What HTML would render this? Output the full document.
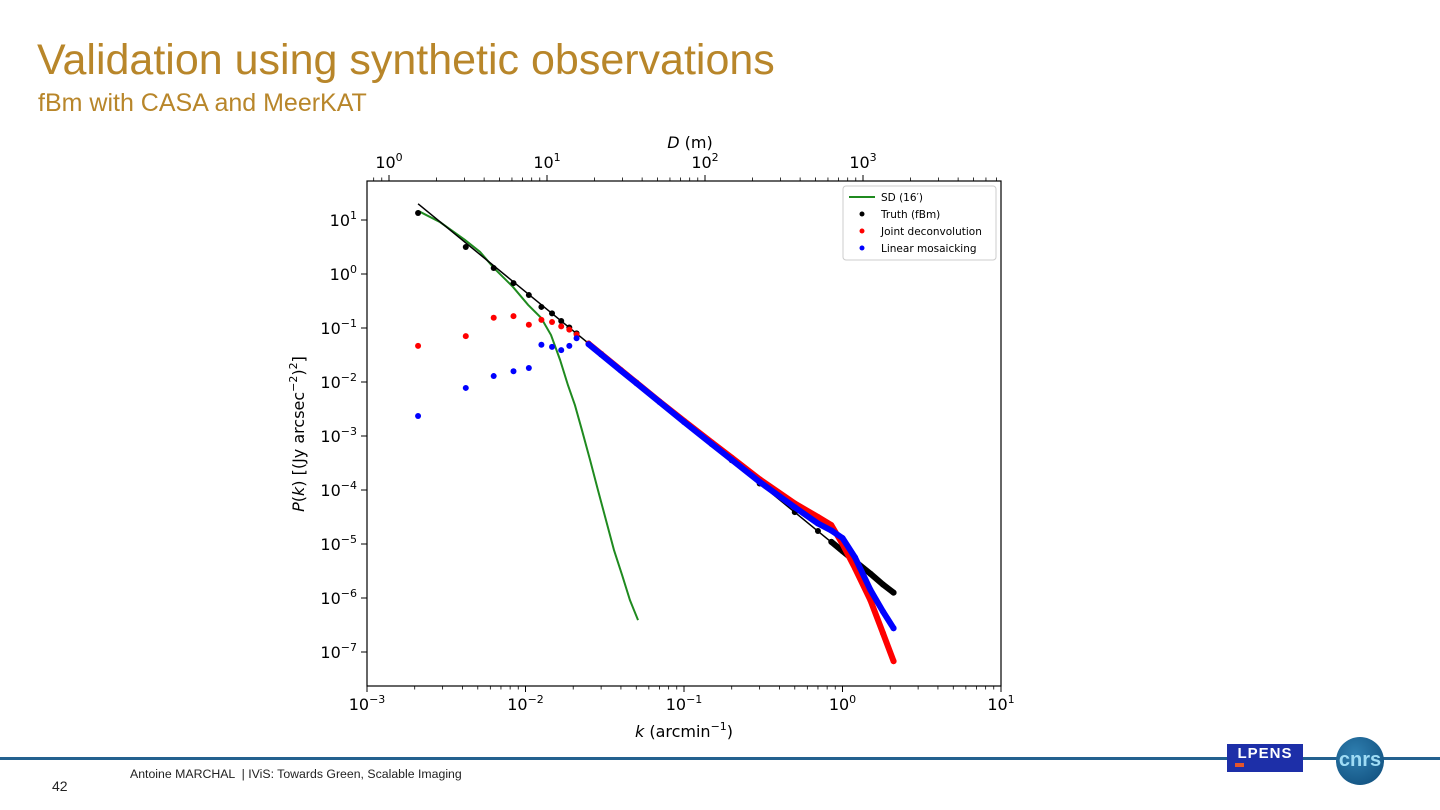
<!DOCTYPE html>
<html><head><meta charset="utf-8"><style>
body{margin:0;width:1440px;height:810px;background:#fff;overflow:hidden;font-family:"Liberation Sans","DejaVu Sans",sans-serif;position:relative}
.t{position:absolute;color:#b8862a;white-space:nowrap}
</style></head><body>
<div class="t" style="left:37px;top:36px;font-size:43px">Validation using synthetic observations</div>
<div class="t" style="left:38px;top:89px;font-size:25px">fBm with CASA and MeerKAT</div>
<svg id="chart" width="1440" height="810" style="position:absolute;left:0;top:0" font-family="DejaVu Sans, Liberation Sans, sans-serif"></svg>
<div style="position:absolute;left:0;top:757px;width:1440px;height:3px;background:#23618f"></div>
<div style="position:absolute;left:52px;top:778px;font-size:14px;color:#222">42</div>
<div style="position:absolute;left:130px;top:767px;font-size:12.3px;color:#222">Antoine MARCHAL &nbsp;| IViS: Towards Green, Scalable Imaging</div>
<div style="position:absolute;left:1227px;top:744px;width:76px;height:28px;background:#1d2fa8;color:#fff;font-size:15px;font-weight:bold;text-align:center;line-height:20px;letter-spacing:1px">LPENS<div style="position:absolute;left:8px;top:19px;width:9px;height:4px;background:#e5552a"></div></div>
<div style="position:absolute;left:1336px;top:737px;width:48px;height:48px;border-radius:50%;background:radial-gradient(circle at 40% 35%,#2f7fb0,#0d4a78);color:#9fdcf5;font-size:20px;font-weight:bold;text-align:center;line-height:46px">cnrs</div>
<script>
const kVals=[0.0021,0.0042,0.0063,0.0084,0.0105,0.0126,0.0147,0.0168,0.0189,0.021,0.025,0.03,0.04,0.05,0.07,0.1,0.15,0.2,0.3,0.5,0.7,0.85,1.0,1.2,1.5,1.8,2.1];
const truthLogP=[1.13,0.5,0.11,-0.17,-0.39,-0.61,-0.73,-0.87,-0.99,-1.10,-1.29,-1.48,-1.78,-2.01,-2.36,-2.73,-3.15,-3.45,-3.88,-4.41,-4.76,-4.96,-5.13,-5.32,-5.55,-5.75,-5.9];
const jointLogP=[-1.33,-1.15,-0.81,-0.78,-0.94,-0.85,-0.89,-0.97,-1.03,-1.12,-1.29,-1.48,-1.78,-2.01,-2.36,-2.72,-3.12,-3.40,-3.80,-4.25,-4.50,-4.65,-5.0,-5.45,-6.04,-6.65,-7.17];
const linearLogP=[-2.63,-2.11,-1.89,-1.80,-1.74,-1.31,-1.35,-1.41,-1.33,-1.19,-1.30,-1.49,-1.79,-2.02,-2.37,-2.74,-3.15,-3.44,-3.85,-4.32,-4.62,-4.75,-4.89,-5.25,-5.85,-6.25,-6.56];
const sdLogK=[-2.678,-2.539,-2.382,-2.287,-2.199,-2.079,-1.984,-1.902,-1.839,-1.782,-1.732,-1.688,-1.644,-1.593,-1.543,-1.492,-1.442,-1.391,-1.341,-1.290];
const sdLogP=[1.17,0.96,0.63,0.41,0.11,-0.24,-0.57,-0.81,-1.13,-1.59,-2.06,-2.43,-2.89,-3.44,-4.0,-4.56,-5.11,-5.57,-6.04,-6.41];
const fitK=[0.0021,2.1];
const fitLogP=[1.30,-5.91];
const xTickExp=[-3,-2,-1,0,1];
const yTickExp=[1,0,-1,-2,-3,-4,-5,-6,-7];
const dTickExp=[0,1,2,3];

const L=367,R=1001,T=181,B=686;
const X=k=>L+(Math.log10(k)+3)*158.5;
const XL=lk=>L+(lk+3)*158.5;
const Y=lp=>220+(1-lp)*54;
const DX=le=>389+le*158;
const svg=document.getElementById('chart');
const NS='http://www.w3.org/2000/svg';
function mk(tag,attrs,parent){const e=document.createElementNS(NS,tag);for(const a in attrs)e.setAttribute(a,attrs[a]);(parent||svg).appendChild(e);return e;}
function txt(x,y,html,anchor,size,parent){const t=mk('text',{x:x,y:y,'text-anchor':anchor||'middle','font-size':size||16,fill:'#000'},parent);t.innerHTML=html;return t;}

const frame=mk('rect',{x:L,y:T,width:R-L,height:B-T,fill:'none',stroke:'#000','stroke-width':1.2});



const gx=mk('g',{});


xTickExp.forEach(e=>{const x=XL(e);mk('line',{x1:x,x2:x,y1:B,y2:B+6,stroke:'#000'},gx);
 const t=txt(x,B+24,'10<tspan dy="-7" font-size="11">'+(e<0?'−'+(-e):e)+'</tspan>','middle',16,gx);
 
 
 if(e<1)for(let m=2;m<10;m++){const xm=XL(e+Math.log10(m));mk('line',{x1:xm,x2:xm,y1:B,y2:B+3.5,stroke:'#000','stroke-width':0.8},gx);}});
const xl=txt(684,737,'<tspan font-style="italic">k</tspan> (arcmin<tspan dy="-7" font-size="11">−1</tspan><tspan dy="7">)</tspan>','middle',16);



const gd=mk('g',{});


dTickExp.forEach(e=>{const x=DX(e);mk('line',{x1:x,x2:x,y1:T,y2:T-6,stroke:'#000'},gd);
 const t=txt(x,T-13,'10<tspan dy="-7" font-size="11">'+e+'</tspan>','middle',16,gd);
 
 });
for(let e=-1;e<=3;e++)for(let m=2;m<10;m++){const x=DX(e+Math.log10(m));if(x>L&&x<R)mk('line',{x1:x,x2:x,y1:T,y2:T-3.5,stroke:'#000','stroke-width':0.8},gd);}
const dl=txt(690,148,'<tspan font-style="italic">D</tspan> (m)','middle',16);



const gy=mk('g',{});


yTickExp.forEach(e=>{const y=Y(e);mk('line',{x1:L,x2:L-6,y1:y,y2:y,stroke:'#000'},gy);
 const t=txt(L-10,y+6,'10<tspan dy="-7" font-size="11">'+(e<0?'−'+(-e):e)+'</tspan>','end',16,gy);
 
 });
const yl=txt(0,0,'<tspan font-style="italic">P</tspan>(<tspan font-style="italic">k</tspan>) [(Jy arcsec<tspan dy="-7" font-size="11">−2</tspan><tspan dy="7">)</tspan><tspan dy="-7" font-size="11">2</tspan><tspan dy="7">]</tspan>','middle',16);
yl.setAttribute('transform','translate(304,434) rotate(-90)');



const sd=mk('polyline',{points:sdLogK.map((lk,i)=>XL(lk)+','+Y(sdLogP[i])).join(' '),fill:'none',stroke:'#1f8a1f','stroke-width':2});


const fit=mk('line',{x1:X(fitK[0]),y1:Y(fitLogP[0]),x2:X(fitK[1]),y2:Y(fitLogP[1]),stroke:'#000','stroke-width':1.5});



function series(vals,color,name,denseFrom){
 const g=mk('g',{});
 
 
 const dense=[];kVals.forEach((k,i)=>{if(k>=denseFrom)dense.push(X(k)+','+Y(vals[i]));});
 mk('polyline',{points:dense.join(' '),fill:'none',stroke:color,'stroke-width':6,'stroke-linecap':'round','stroke-linejoin':'round'},g);
 kVals.forEach((k,i)=>{const c=mk('circle',{cx:X(k),cy:Y(vals[i]),r:3,fill:color},g);
  
  });
}
series(truthLogP,'#000','truth-series',0.85);
series(jointLogP,'#f00','joint-deconvolution-series',0.025);
series(linearLogP,'#00f','linear-mosaicking-series',0.025);

const lg=mk('g',{});


mk('rect',{x:843,y:186,width:153,height:74,rx:3,fill:'#fff',stroke:'#ccc'},lg);
mk('line',{x1:849,x2:875,y1:197,y2:197,stroke:'#1f8a1f','stroke-width':2},lg);
[['SD (16′)',null],['Truth (fBm)','#000'],['Joint deconvolution','#f00'],['Linear mosaicking','#00f']].forEach((e,i)=>{
 const y=197+i*17;
 if(e[1])mk('circle',{cx:862,cy:y,r:2.5,fill:e[1]},lg);
 const t=txt(881,y+4,e[0],'start',10.5,lg);
 
 });
</script>
</body></html>
